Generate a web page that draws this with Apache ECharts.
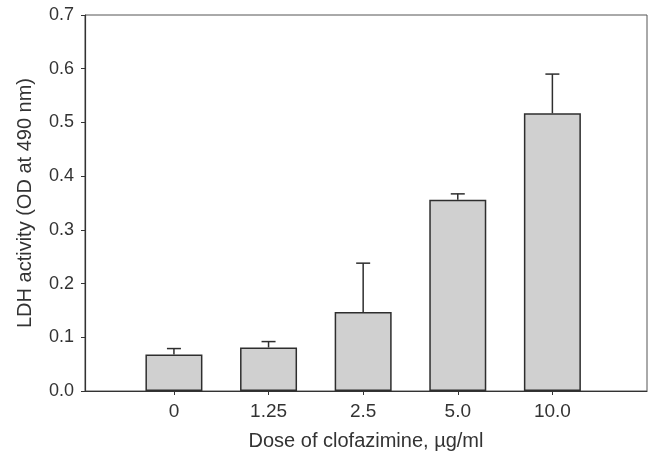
<!DOCTYPE html>
<html>
<head>
<meta charset="utf-8">
<script src="https://cdn.jsdelivr.net/npm/echarts@6/dist/echarts.min.js"></script>
<style>
  html, body { margin: 0; padding: 0; background: #fff; }
  #chart { width: 652px; height: 451px; }
</style>
</head>
<body>
<div id="chart"></div>
<script>
  // Data
  const doses = ['0', '1.25', '2.5', '5.0', '10.0'];
  const dosePositions = [1, 2, 3, 4, 5];
  const ldhMean = [0.068, 0.081, 0.147, 0.356, 0.517];
  const ldhSd = [0.011, 0.011, 0.091, 0.011, 0.073];

  const INK = '#333333';
  const FONT = '"Liberation Sans", Arial, sans-serif';

  const chart = echarts.init(document.getElementById('chart'));

  const barData = dosePositions.map((x, i) => [x, ldhMean[i]]);
  const errData = dosePositions.map((x, i) => [x, ldhMean[i], ldhSd[i]]);

  const option = {
    backgroundColor: '#ffffff',
    animation: false,
    grid: {
      left: 85,
      right: 5,
      top: 15,
      bottom: 60,
      outerBoundsMode: 'none',
      show: true,
      borderColor: '#555',
      borderWidth: 1,
    },
    xAxis: {
      type: 'value',
      min: 0.06,
      max: 6,
      name: 'Dose of clofazimine, \u00b5g/ml',
      nameLocation: 'middle',
      nameGap: 40,
      nameTextStyle: { color: INK, fontFamily: FONT, fontSize: 20 },
      axisLine: { show: true, lineStyle: { color: INK, width: 1.2 } },
      axisTick: {
        show: true,
        length: 4,
        customValues: dosePositions,
        lineStyle: { color: INK },
      },
      axisLabel: {
        customValues: dosePositions,
        margin: 11,
        color: INK,
        fontFamily: FONT,
        fontSize: 19,
        formatter: (v) => doses[dosePositions.indexOf(Math.round(v))] ?? '',
      },
      splitLine: { show: false },
    },
    yAxis: {
      type: 'value',
      min: 0,
      max: 0.7,
      interval: 0.1,
      name: 'LDH activity (OD at 490 nm)',
      nameLocation: 'middle',
      nameGap: 50,
      nameTextStyle: { color: INK, fontFamily: FONT, fontSize: 20 },
      axisLine: { show: true, lineStyle: { color: INK, width: 1.2 } },
      axisTick: { show: true, length: 4, lineStyle: { color: INK } },
      axisLabel: {
        margin: 11,
        color: INK,
        fontFamily: FONT,
        fontSize: 18,
        formatter: (v) => v.toFixed(1),
      },
      splitLine: { show: false },
    },
    series: [
      {
        type: 'bar',
        data: barData,
        barWidth: 57,
        itemStyle: {
          color: '#d0d0d0',
          borderColor: '#2e2e2e',
          borderWidth: 1.5,
        },
      },
      {
        type: 'custom',
        data: errData,
        z: 3,
        renderItem: (params, api) => {
          const x = api.value(0);
          const mean = api.value(1);
          const sd = api.value(2);
          const base = api.coord([x, mean]);
          const top = api.coord([x, mean + sd]);
          const cap = 7;
          const style = { stroke: '#2e2e2e', lineWidth: 1.5 };
          return {
            type: 'group',
            children: [
              { type: 'line', shape: { x1: base[0], y1: base[1], x2: top[0], y2: top[1] }, style },
              { type: 'line', shape: { x1: top[0] - cap, y1: top[1], x2: top[0] + cap, y2: top[1] }, style },
            ],
          };
        },
      },
    ],
  };

  chart.setOption(option);
</script>
</body>
</html>
